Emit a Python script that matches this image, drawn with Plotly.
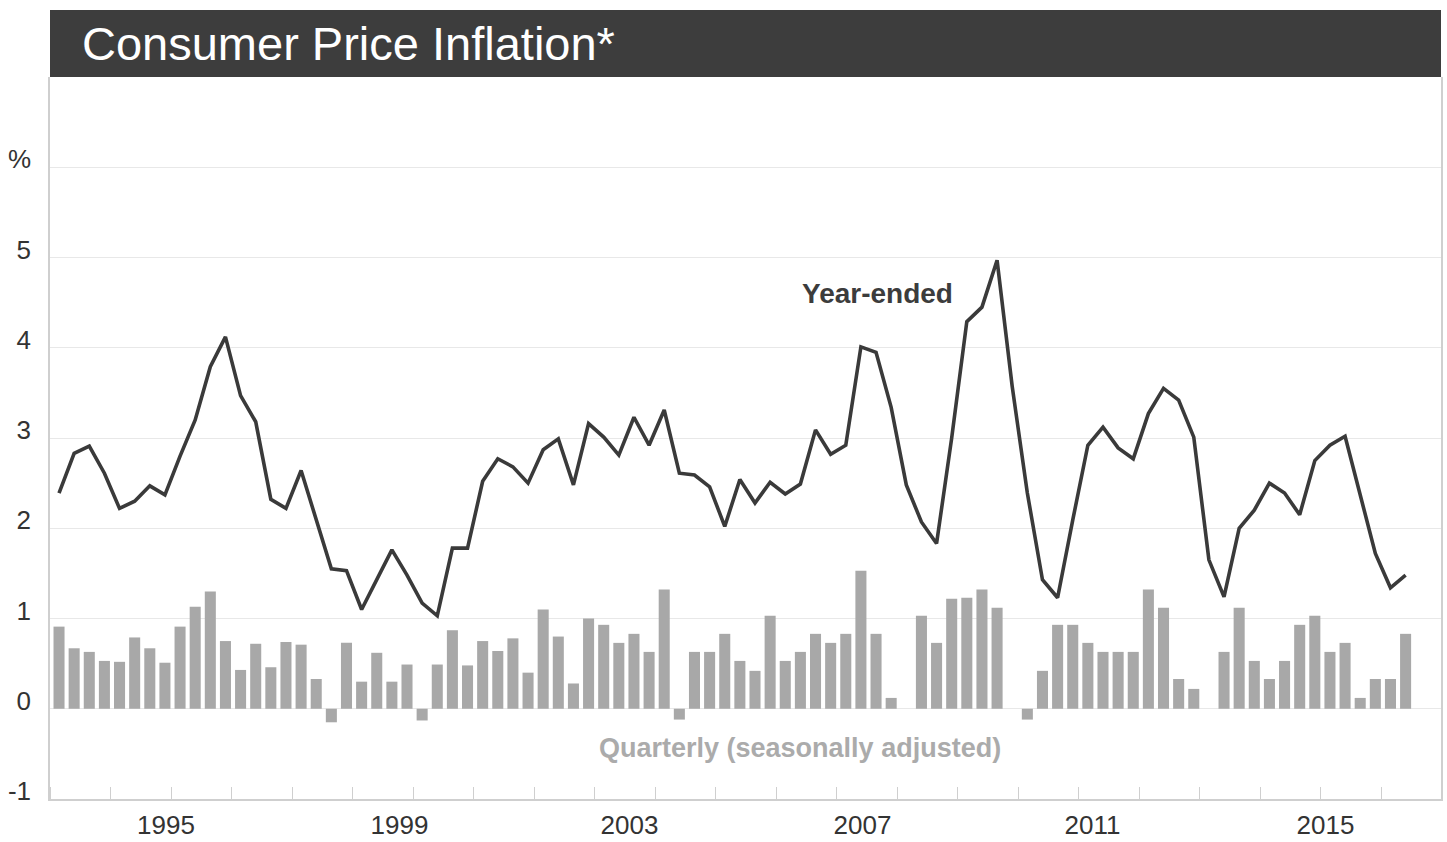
import plotly.graph_objects as go

# ---- data ----
start_year = 1993
n_quarters = 90  # 1993 Q1 .. 2015 Q2
quarter_labels = [f"{start_year + k // 4} Q{k % 4 + 1}" for k in range(n_quarters)]

year_ended = [
    2.39, 2.83, 2.91, 2.61, 2.22, 2.30, 2.47, 2.37, 2.80, 3.20,
    3.79, 4.12, 3.47, 3.18, 2.32, 2.22, 2.64, 2.11, 1.55, 1.53,
    1.10, 1.43, 1.76, 1.48, 1.17, 1.03, 1.78, 1.78, 2.52, 2.77,
    2.68, 2.50, 2.87, 2.99, 2.48, 3.16, 3.01, 2.81, 3.23, 2.92,
    3.31, 2.61, 2.59, 2.46, 2.02, 2.54, 2.28, 2.51, 2.38, 2.49,
    3.09, 2.82, 2.92, 4.01, 3.95, 3.34, 2.48, 2.07, 1.83, 3.00,
    4.29, 4.45, 4.97, 3.57, 2.39, 1.43, 1.23, 2.09, 2.92, 3.12,
    2.89, 2.77, 3.27, 3.55, 3.42, 3.01, 1.65, 1.24, 2.00, 2.20,
    2.50, 2.39, 2.15, 2.75, 2.92, 3.02, 2.35, 1.72, 1.34, 1.48,
]

quarterly_sa = [
    0.91, 0.67, 0.63, 0.53, 0.52, 0.79, 0.67, 0.51, 0.91, 1.13,
    1.30, 0.75, 0.43, 0.72, 0.46, 0.74, 0.71, 0.33, -0.15, 0.73,
    0.30, 0.62, 0.30, 0.49, -0.13, 0.49, 0.87, 0.48, 0.75, 0.64,
    0.78, 0.40, 1.10, 0.80, 0.28, 1.00, 0.93, 0.73, 0.83, 0.63,
    1.32, -0.12, 0.63, 0.63, 0.83, 0.53, 0.42, 1.03, 0.53, 0.63,
    0.83, 0.73, 0.83, 1.53, 0.83, 0.12, 0.00, 1.03, 0.73, 1.22,
    1.23, 1.32, 1.12, 0.00, -0.12, 0.42, 0.93, 0.93, 0.73, 0.63,
    0.63, 0.63, 1.32, 1.12, 0.33, 0.22, 0.00, 0.63, 1.12, 0.53,
    0.33, 0.53, 0.93, 1.03, 0.63, 0.73, 0.12, 0.33, 0.33, 0.83,
]

year_tick_text = ["1995", "1999", "2003", "2007", "2011", "2015"]
y_tick_values = [-1, 0, 1, 2, 3, 4, 5, 6]
y_tick_text = ["-1", "0", "1", "2", "3", "4", "5", "%"]

# ---- layout constants ----
year_tick_pos = [1994.893, 1998.751, 2002.551, 2006.401, 2010.202, 2014.052]
x_range = [1992.976, 2015.960]

def q_to_x(label):
    y, q = label.split(" Q")
    return int(y) + (int(q) - 0.5) / 4

x_vals = [q_to_x(l) for l in quarter_labels]

FONT = "Liberation Sans, Arial, Helvetica, sans-serif"
TEXT = "#333333"

fig = go.Figure()
fig.add_trace(go.Bar(
    x=x_vals, y=quarterly_sa, name="Quarterly (seasonally adjusted)",
    marker=dict(color="#a8a8a8", line=dict(width=0)),
    customdata=quarter_labels,
    hovertemplate="%{customdata}: %{y}<extra></extra>",
))
fig.add_trace(go.Scatter(
    x=x_vals, y=year_ended, mode="lines", name="Year-ended",
    line=dict(color="#3a3a3a", width=3.6),
    customdata=quarter_labels,
    hovertemplate="%{customdata}: %{y}<extra></extra>",
))

fig.update_layout(
    width=1447, height=842,
    margin=dict(l=50, r=6, t=77, b=43, autoexpand=False),
    paper_bgcolor="white", plot_bgcolor="white",
    showlegend=False,
    bargap=0.27,
    font=dict(family=FONT, color=TEXT, size=26),
    title=dict(
        text="Consumer Price Inflation*",
        font=dict(family=FONT, size=47, color="white"),
        x=82 / 1447, xanchor="left", xref="container",
        y=1 - 44 / 842, yanchor="middle", yref="container",
    ),
    xaxis=dict(
        range=x_range, automargin=False,
        tickmode="array", tickvals=year_tick_pos, ticktext=year_tick_text,
        ticks="", showgrid=False, zeroline=False,
        showline=True, linecolor="#cfcfcf", linewidth=1.5,
        tickfont=dict(size=26, color=TEXT),
        ticklabelstandoff=2,
        minor=dict(ticks="inside", ticklen=12, tickwidth=1.3,
                   tickcolor="#cfcfcf", tick0=x_range[0], dtick=1,
                   showgrid=False),
    ),
    yaxis=dict(
        range=[-1, 7], automargin=False,
        tickmode="array", tickvals=y_tick_values, ticktext=y_tick_text,
        ticks="", showgrid=True, gridcolor="#e8e8e8", gridwidth=1.3,
        zeroline=False,
        showline=True, linecolor="#cfcfcf", linewidth=1.5, mirror=True,
        tickfont=dict(size=26, color=TEXT),
        ticklabelshift=-8, ticklabelstandoff=12,
    ),
    shapes=[dict(
        type="rect", xref="paper", yref="paper",
        x0=0, x1=1, y0=1, y1=1 + 67 / 722,
        fillcolor="#3d3d3d", line=dict(width=0), layer="above",
    )],
    annotations=[
        dict(text="<b>Year-ended</b>", x=2006.657, y=4.596, xref="x", yref="y",
             showarrow=False, font=dict(family=FONT, size=28, color="#3c3c3c"),
             xanchor="center", yanchor="middle"),
        dict(text="<b>Quarterly (seasonally adjusted)</b>", x=2005.369, y=-0.44,
             xref="x", yref="y", showarrow=False,
             font=dict(family=FONT, size=27, color="#ababab"),
             xanchor="center", yanchor="middle"),
    ],
)

fig.write_html(
    "out.html",
    config={"displayModeBar": False},
    post_script="document.body.style.margin='0';document.body.style.overflow='hidden';",
)
